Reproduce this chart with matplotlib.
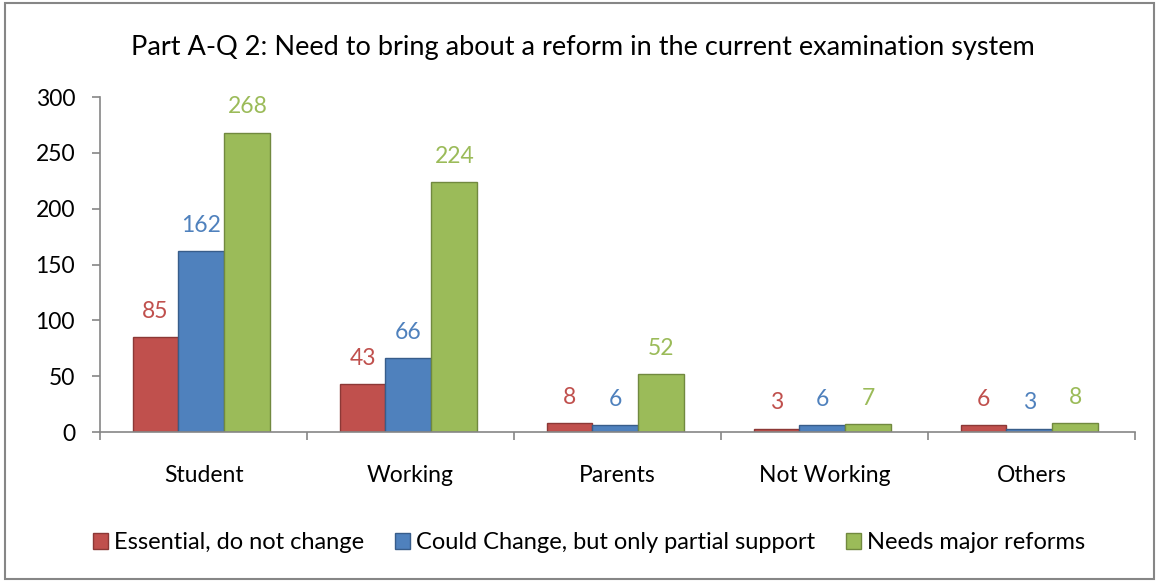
import matplotlib
matplotlib.use("Agg")
import matplotlib.pyplot as plt
import numpy as np
from matplotlib.patches import Rectangle

categories = ["Student", "Working", "Parents", "Not Working", "Others"]
series_names = ["Essential, do not change", "Could Change, but only partial support", "Needs major reforms"]
essential = [85, 43, 8, 3, 6]
could_change = [162, 66, 6, 6, 3]
major = [268, 224, 52, 7, 8]
yticks = [0, 50, 100, 150, 200, 250, 300]

colors = ["#C0504D", "#4F81BD", "#9BBB59"]
edges = ["#8C3836", "#385D8A", "#71893F"]
label_colors = ["#C0504D", "#4F81BD", "#9BBB59"]

plt.rcParams['font.family'] = ['Lato', 'DejaVu Sans']
FS = 16.5

fig = plt.figure(figsize=(11.59, 5.82), dpi=100)
fig.patches.append(Rectangle((0.004, 0.006), 0.992, 0.988, transform=fig.transFigure,
                             fill=False, edgecolor="#868686", linewidth=1.5))
ax = fig.add_axes([0.0863, 0.2577, 0.893, 0.5756])

x = np.arange(len(categories))
w = 0.222
data = [essential, could_change, major]
handles = []
for i, vals in enumerate(data):
    pos = x + (i - 1) * w - 0.01
    b = ax.bar(pos, vals, width=w, color=colors[i], edgecolor=edges[i], linewidth=1.0,
               label=series_names[i])
    handles.append(b)
    for p, v in zip(pos, vals):
        ax.annotate(str(v), (p, v), xytext=(0, 11), textcoords="offset points",
                    ha="center", va="bottom", color=label_colors[i], fontsize=FS)

ax.set_xlim(-0.5, len(categories) - 0.5)
ax.set_ylim(0, 300)
ax.set_yticks(yticks)
ax.set_yticklabels([str(t) for t in yticks], fontsize=FS)
ax.set_xticks(x)
ax.set_xticklabels(categories, fontsize=FS)
ax.tick_params(axis='x', length=0, pad=24)
ax.set_xticks(np.arange(-0.5, len(categories)), minor=True)
ax.tick_params(axis='x', which='minor', length=6, color="#868686", width=1.2)
ax.tick_params(axis='y', length=6, color="#868686", width=1.2, pad=12)
for s in ["top", "right"]:
    ax.spines[s].set_visible(False)
for s in ["left", "bottom"]:
    ax.spines[s].set_color("#868686")
    ax.spines[s].set_linewidth(1.2)

fig.text(0.503, 0.919, "Part A-Q 2: Need to bring about a reform in the current examination system",
         ha="center", va="center", fontsize=19.5)

fig.legend(handles=handles, loc="center", bbox_to_anchor=(0.508, 0.068), ncol=3,
           frameon=False, fontsize=17, handlelength=0.65, handleheight=0.65,
           handletextpad=0.25, columnspacing=1.3)

fig.savefig("out.png", dpi=100)
